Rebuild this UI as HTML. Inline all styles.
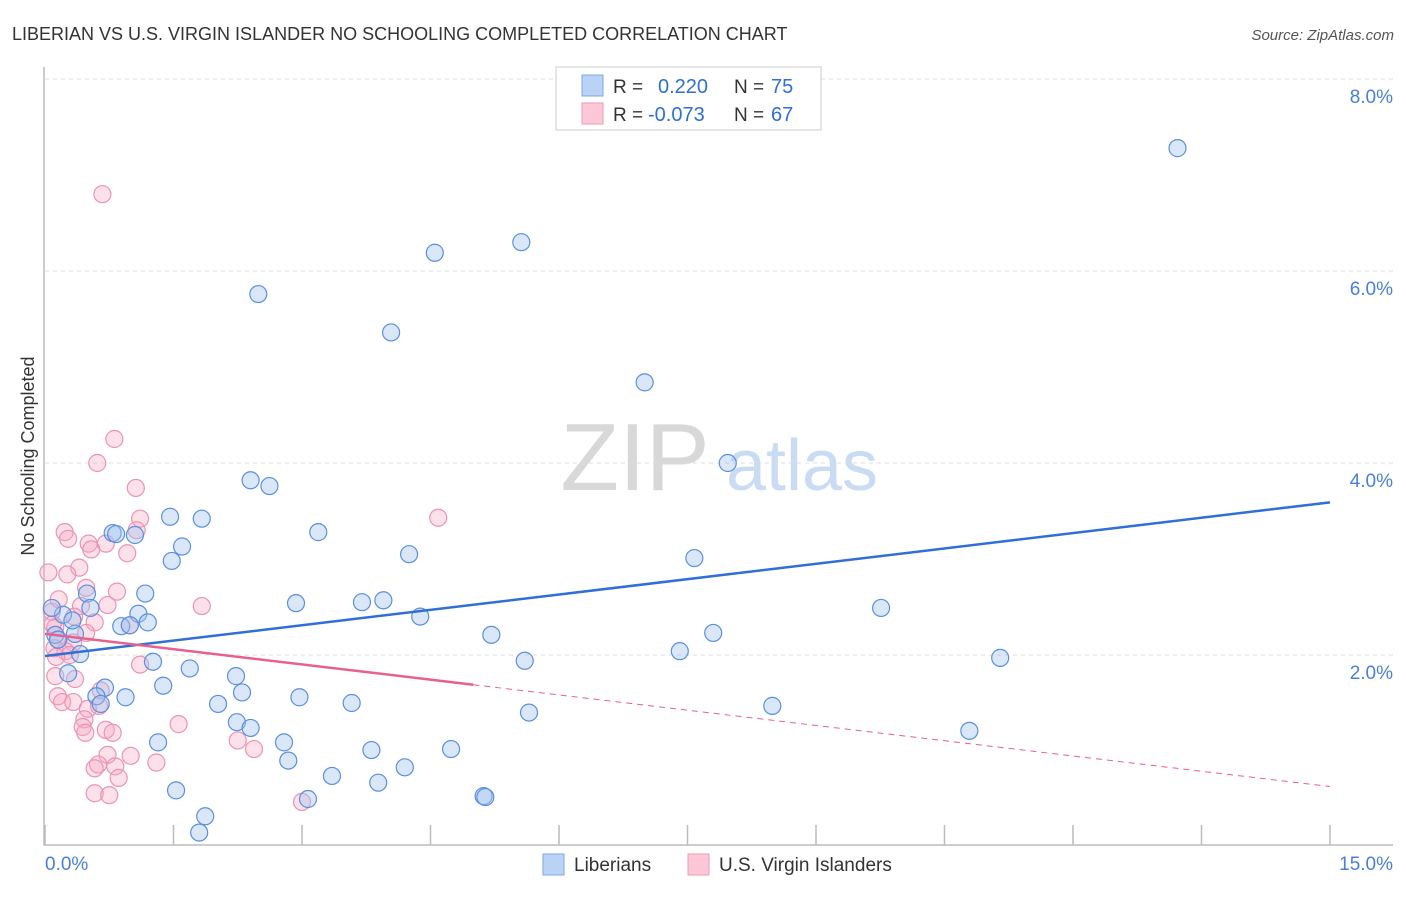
<!DOCTYPE html>
<html><head><meta charset="utf-8"><style>
body{margin:0;background:#fff;font-family:"Liberation Sans",sans-serif;}
svg text{font-family:"Liberation Sans",sans-serif;}
</style></head><body>
<svg width="1406" height="892" viewBox="0 0 1406 892">
<text x="12" y="40" font-size="18" fill="#333">LIBERIAN VS U.S. VIRGIN ISLANDER NO SCHOOLING COMPLETED CORRELATION CHART</text>
<text x="1394" y="40" font-size="15" fill="#555" font-style="italic" text-anchor="end">Source: ZipAtlas.com</text>
<text x="34" y="456" font-size="18" fill="#333" text-anchor="middle" transform="rotate(-90 34 456)">No Schooling Completed</text>
<g>
<text x="635" y="490" font-size="96" fill="#d8d8d8" font-family="Liberation Serif" text-anchor="middle">ZIP</text>
<text x="802" y="490" font-size="72" fill="#c9dcf3" text-anchor="middle">atlas</text>
</g>
<g id="grid"></g>
<g id="axes"></g>
<g id="marks"></g>
<g>
<rect x="556" y="67" width="265" height="63" fill="#fff" stroke="#ccc"/>
<rect x="582" y="75" width="21" height="21" fill="#b9d2f5" stroke="#7ea6e6"/>
<rect x="582" y="103" width="21" height="21" fill="#fcc8d8" stroke="#eb9ab6"/>
<text x="613" y="93" font-size="19" fill="#333">R = </text><text x="658" y="93" font-size="20" fill="#2f6fd6">0.220</text>
<text x="734" y="93" font-size="19" fill="#333">N = </text><text x="771" y="93" font-size="20" fill="#2f6fd6">75</text>
<text x="613" y="121" font-size="19" fill="#333">R = </text><text x="648" y="121" font-size="20" fill="#2f6fd6">-0.073</text>
<text x="734" y="121" font-size="19" fill="#333">N = </text><text x="771" y="121" font-size="20" fill="#2f6fd6">67</text>
</g>
<g>
<rect x="543" y="854" width="21" height="21" fill="#b9d2f5" stroke="#7ea6e6"/>
<text x="574" y="871" font-size="19" fill="#333">Liberians</text>
<rect x="688" y="854" width="21" height="21" fill="#fcc8d8" stroke="#eb9ab6"/>
<text x="719" y="871" font-size="19" fill="#333">U.S. Virgin Islanders</text>
</g>
</svg>
<script>
const blueX=[13.22,5.56,4.55,2.49,4.04,7.00,7.97,2.40,2.62,1.46,1.83,0.79,0.83,1.05,3.19,1.60,1.48,4.25,7.58,1.17,0.49,2.93,3.70,3.95,9.76,0.53,1.09,4.38,0.21,1.20,0.89,0.99,5.21,7.80,0.35,0.12,0.32,0.41,7.41,11.15,5.60,1.26,1.69,0.27,2.23,1.38,0.70,2.30,0.60,0.94,2.97,0.65,2.02,3.58,8.49,5.65,2.24,2.40,10.79,1.32,2.79,3.81,4.74,2.84,4.20,3.35,3.89,1.53,3.07,5.12,5.14,1.87,1.80,0.08,0.15];
const blueY=[7.28,6.30,6.19,5.76,5.36,4.84,4.00,3.82,3.76,3.44,3.42,3.27,3.26,3.25,3.28,3.13,2.98,3.05,3.01,2.64,2.64,2.54,2.55,2.57,2.49,2.49,2.43,2.40,2.42,2.34,2.30,2.31,2.21,2.23,2.22,2.21,2.36,2.01,2.04,1.97,1.94,1.93,1.86,1.81,1.78,1.68,1.66,1.61,1.57,1.56,1.56,1.49,1.49,1.50,1.47,1.40,1.30,1.24,1.21,1.09,1.09,1.01,1.02,0.90,0.83,0.74,0.67,0.59,0.50,0.53,0.52,0.32,0.15,2.49,2.16];
const pinkX=[0.67,0.81,0.61,1.06,1.11,4.59,0.23,0.27,1.07,0.51,0.54,0.71,0.96,0.04,0.40,0.26,0.48,0.84,0.16,1.83,0.42,0.73,0.08,0.34,0.58,0.12,0.99,0.48,0.16,0.33,0.11,0.24,0.29,0.13,1.11,0.12,0.35,0.65,0.15,0.20,0.33,0.50,0.63,0.46,0.44,1.56,0.47,0.71,0.79,2.25,2.44,0.73,1.00,0.62,1.30,0.58,0.82,0.86,0.58,0.75,3.00,0.09];
const pinkY=[6.80,4.25,4.00,3.74,3.42,3.43,3.28,3.21,3.30,3.16,3.10,3.16,3.06,2.86,2.91,2.84,2.70,2.66,2.58,2.51,2.51,2.52,2.45,2.40,2.34,2.29,2.31,2.23,2.16,2.13,2.07,2.04,2.00,1.98,1.90,1.78,1.75,1.63,1.57,1.51,1.51,1.44,1.47,1.33,1.25,1.28,1.19,1.22,1.19,1.11,1.02,0.96,0.95,0.86,0.88,0.82,0.84,0.72,0.56,0.54,0.47,2.32];
const yTicks=[2,4,6,8];
const yTickLabels=["2.0%","4.0%","6.0%","8.0%"];
const xTickVals=[0,1.5,3,4.5,6,7.5,9,10.5,12,13.5,15];
const blueTrend=[1.99,3.59];
const pinkTrend=[2.22,0.63];
const pinkSolidEnd=5.0;

const NS="http://www.w3.org/2000/svg";
const sx=v=>45+v/15*1285;
const sy=v=>847-v*96;
function mk(tag,attrs,parent){const e=document.createElementNS(NS,tag);for(const k in attrs)e.setAttribute(k,attrs[k]);parent.appendChild(e);return e;}
const grid=document.getElementById('grid'),axes=document.getElementById('axes'),marks=document.getElementById('marks');
yTicks.forEach((t,i)=>{
  const l=mk('line',{x1:45,x2:1393,y1:sy(t),y2:sy(t),stroke:'#ddd','stroke-dasharray':'4,4'},grid);
  
  
  const tx=mk('text',{x:1393,y:sy(t)+24,'font-size':19,fill:'#4a7fd8','text-anchor':'end'},axes);
  tx.textContent=yTickLabels[i];
  
  
});
const ax=mk('path',{d:'M44,67V845H1393',fill:'none',stroke:'#bbb','stroke-width':1.5},axes);


xTickVals.forEach(v=>{
  const t=mk('line',{x1:sx(v),x2:sx(v),y1:825,y2:845,stroke:'#bbb','stroke-width':1.5},axes);
  
  
});
const xl0=mk('text',{x:45,y:870,'font-size':19,fill:'#4a7fd8'},axes);xl0.textContent='0.0%';


const xl1=mk('text',{x:1393,y:870,'font-size':19,fill:'#4a7fd8','text-anchor':'end'},axes);xl1.textContent='15.0%';



pinkX.forEach((x,i)=>{
  const c=mk('circle',{cx:sx(x),cy:sy(pinkY[i]),r:8.5,fill:'rgba(245,170,195,0.35)',stroke:'#eb93b3','stroke-width':1.2},marks);
  
  
});
blueX.forEach((x,i)=>{
  const c=mk('circle',{cx:sx(x),cy:sy(blueY[i]),r:8.5,fill:'rgba(160,195,240,0.4)',stroke:'#5b8fe0','stroke-width':1.2},marks);
  
  
});
const bt=mk('line',{x1:sx(0),y1:sy(blueTrend[0]),x2:sx(15),y2:sy(blueTrend[1]),stroke:'#2f6fd6','stroke-width':2.5},marks);


const pAt=v=>pinkTrend[0]+(pinkTrend[1]-pinkTrend[0])*v/15;
const ps=mk('line',{x1:sx(0),y1:sy(pinkTrend[0]),x2:sx(pinkSolidEnd),y2:sy(pAt(pinkSolidEnd)),stroke:'#e8608e','stroke-width':2.5},marks);


const pd=mk('line',{x1:sx(pinkSolidEnd),y1:sy(pAt(pinkSolidEnd)),x2:sx(15),y2:sy(pinkTrend[1]),stroke:'#e8608e','stroke-width':1,'stroke-dasharray':'6,5'},marks);


</script>
</body></html>
